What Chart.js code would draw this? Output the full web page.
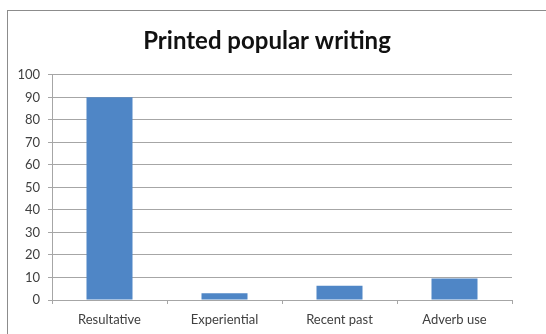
<!DOCTYPE html>
<html>
<head>
<meta charset="utf-8">
<script src="https://cdn.jsdelivr.net/npm/chart.js@4/dist/chart.umd.min.js"></script>
<style>
  html, body { margin: 0; padding: 0; background: #ffffff; }
  #wrap { position: relative; width: 546px; height: 334px; overflow: hidden; }
  #frame { position: absolute; left: 7px; top: 10px; width: 600px; height: 400px;
           border: 1px solid #8c8c8c; box-sizing: border-box; }
  canvas { position: absolute; left: 0; top: 0; }
</style>
</head>
<body>
<div id="wrap">
  <div id="frame"></div>
  <canvas id="c" width="546" height="334"></canvas>
</div>
<script>
// Share of each usage type in printed popular writing
const categories = ['Resultative', 'Experiential', 'Recent past', 'Adverb use'];
const shares = [90, 3, 6.3, 9.5];
const yTicks = [0, 10, 20, 30, 40, 50, 60, 70, 80, 90, 100];

const gridColor = '#a6a6a6';
const labelColor = '#404040';

// Centre the title over the frame rather than the padded layout box
const titleShift = {
  id: 'titleShift',
  afterLayout(chart) {
    const t = chart.titleBlock;
    if (t) { t.left += 22; }
  }
};

new Chart(document.getElementById('c'), {
  type: 'bar',
  data: {
    labels: categories,
    datasets: [{
      data: shares,
      backgroundColor: '#4f86c6',
      borderWidth: 0,
      categoryPercentage: 1,
      barPercentage: 0.4
    }]
  },
  plugins: [titleShift],
  options: {
    responsive: false,
    animation: false,
    devicePixelRatio: 1,
    layout: { padding: { left: 0, right: 34, top: 0, bottom: 0 } },
    plugins: {
      legend: { display: false },
      tooltip: { enabled: false },
      title: {
        display: true,
        text: 'Printed popular writing',
        color: '#111111',
        font: { family: 'Lato', size: 24, weight: 'bold', lineHeight: 1.2 },
        padding: { top: 27, bottom: 19 }
      }
    },
    scales: {
      x: {
        grid: {
          display: true,
          drawOnChartArea: false,
          drawTicks: true,
          tickLength: 4,
          color: gridColor,
          offset: true
        },
        border: { display: true, color: gridColor },
        ticks: {
          color: labelColor,
          font: { family: 'Lato', size: 13 },
          padding: 8,
          maxRotation: 0
        },
        afterFit: s => { s.height = 34; }
      },
      y: {
        min: 0,
        max: 100,
        afterBuildTicks: s => { s.ticks = yTicks.map(v => ({ value: v })); },
        grid: { color: gridColor, tickLength: 4 },
        border: { display: true, color: gridColor },
        ticks: {
          color: labelColor,
          font: { family: 'Lato', size: 13 },
          padding: 8
        },
        afterFit: s => { s.width = 52; }
      }
    }
  }
});
</script>
</body>
</html>
